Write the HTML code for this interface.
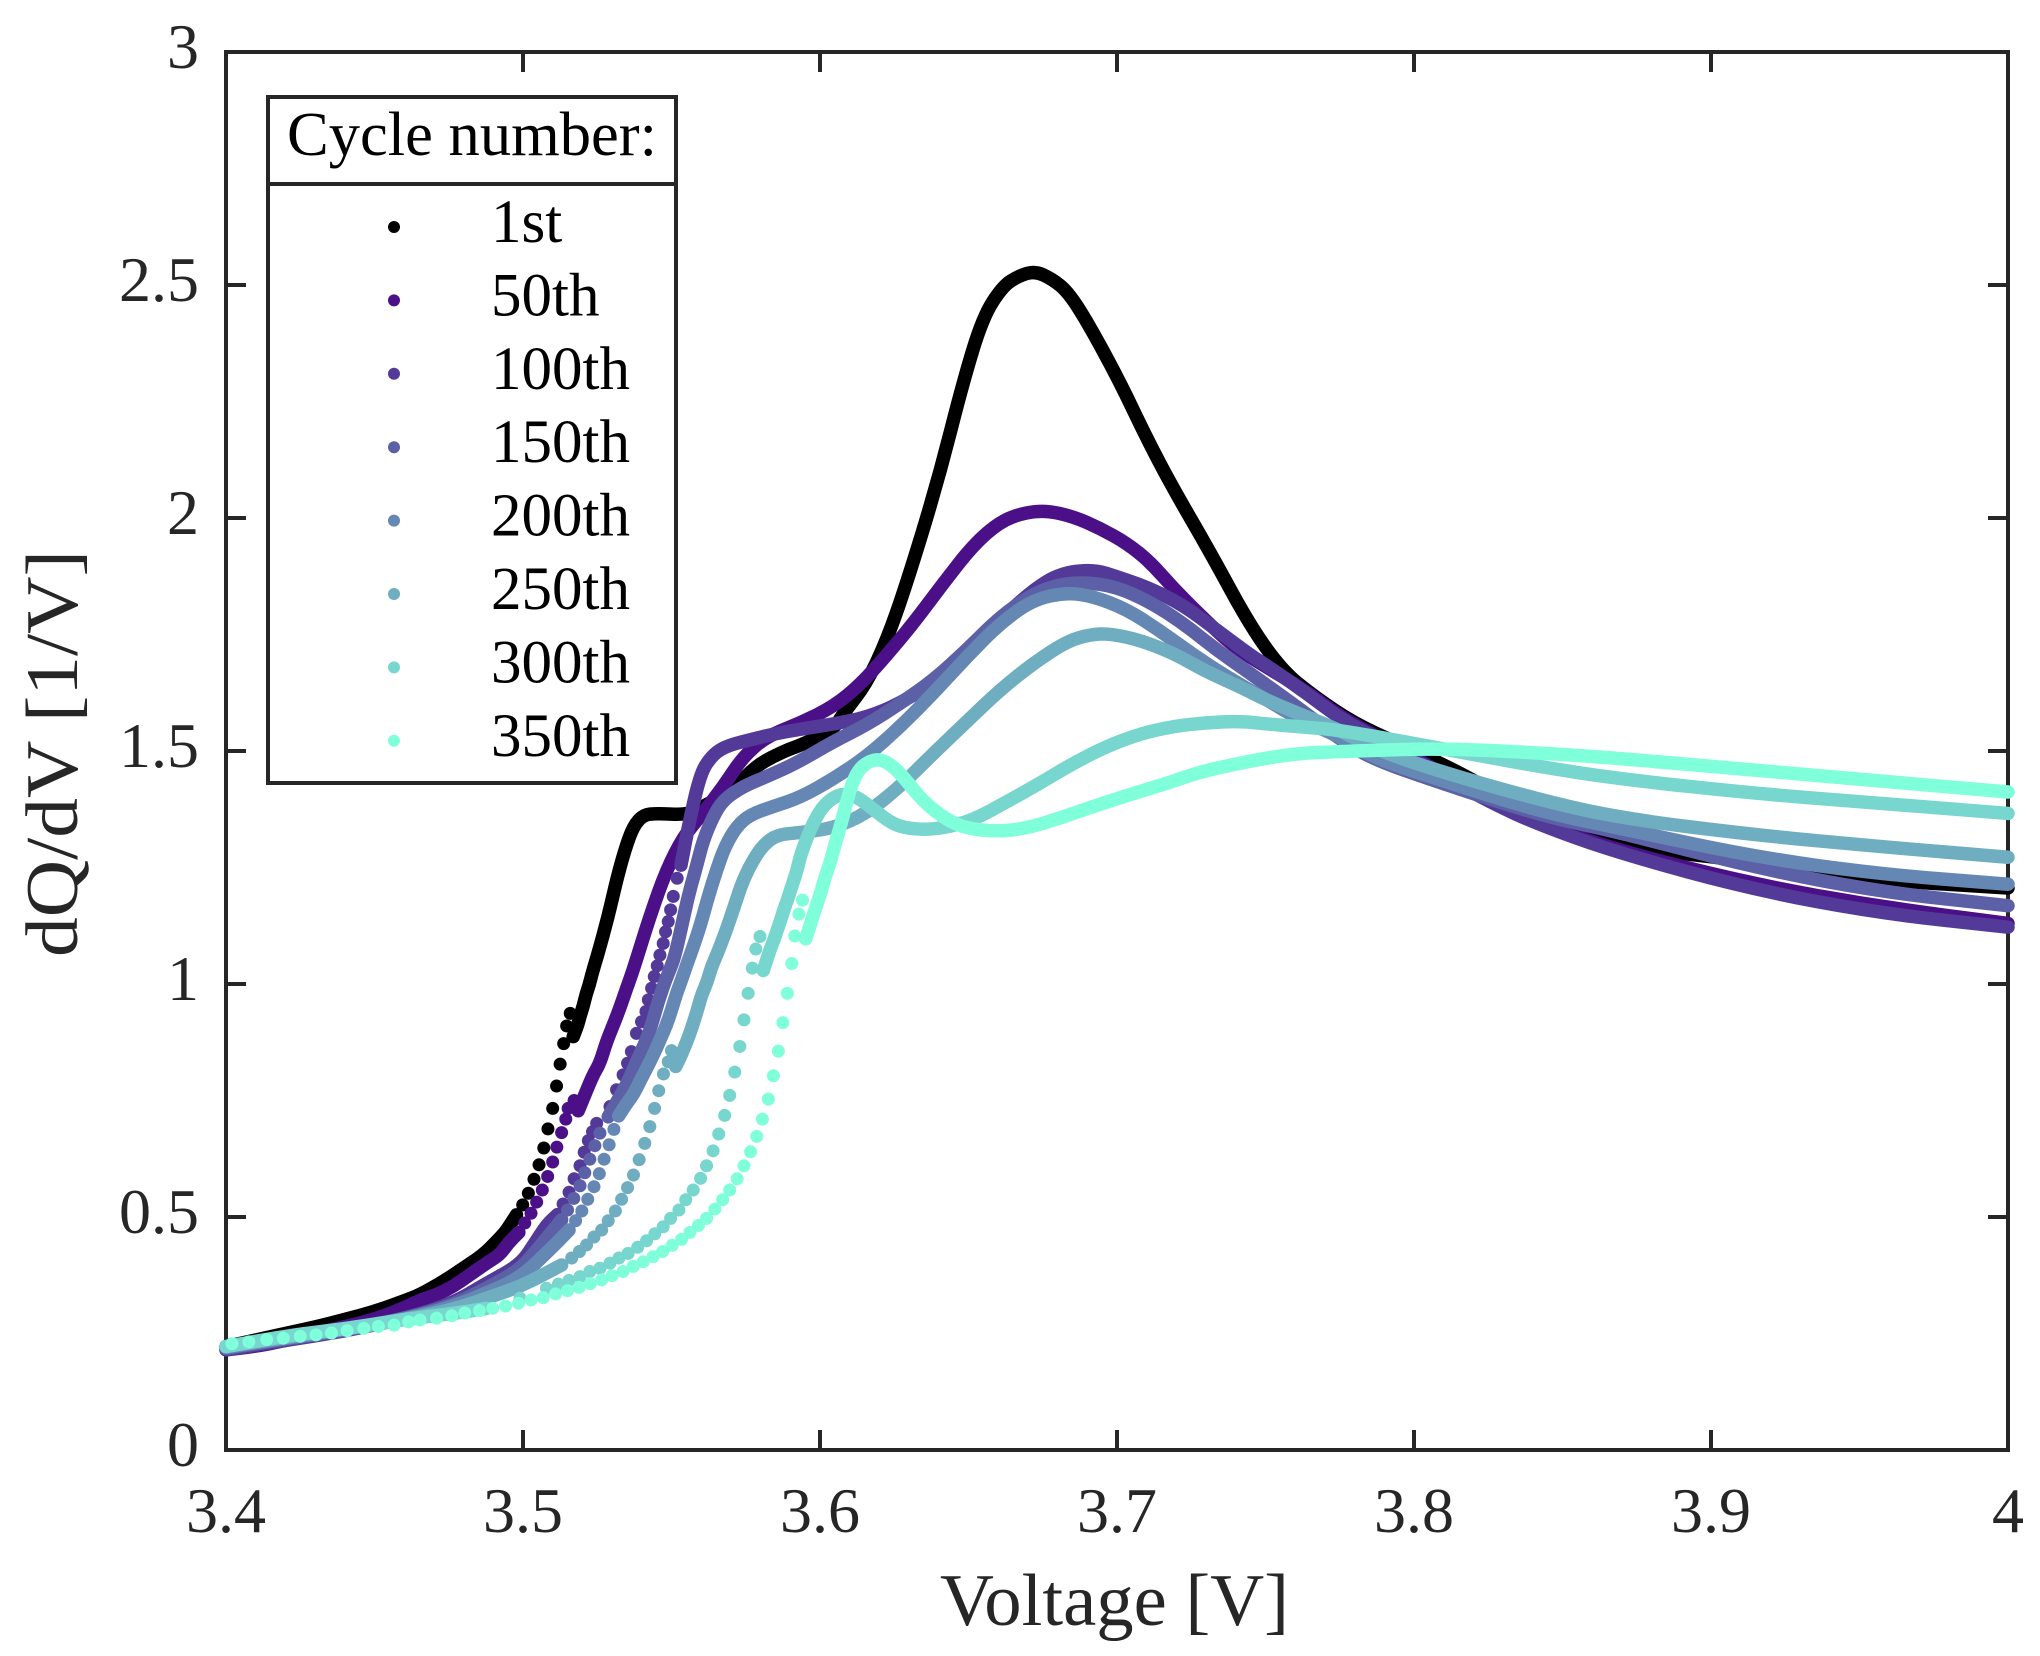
<!DOCTYPE html>
<html lang="en">
<head>
<meta charset="utf-8">
<title>dQ/dV versus voltage by cycle number</title>
<style>
html,body{margin:0;padding:0;background:#fff;}
body{width:2040px;height:1656px;overflow:hidden;}
svg{display:block;}
text{font-family:"Liberation Serif",serif;}
</style>
</head>
<body>
<svg id="chart" xmlns="http://www.w3.org/2000/svg" width="2040" height="1656" viewBox="0 0 2040 1656">
  <rect x="0" y="0" width="2040" height="1656" fill="#ffffff"/>
  <g id="axes"></g>
  <g id="marks"></g>
  <text x="1114.5" y="1625" font-size="74" text-anchor="middle" textLength="349" lengthAdjust="spacingAndGlyphs" fill="#262626">Voltage [V]</text>
  <text transform="translate(77,753.5) rotate(-90)" x="0" y="0" font-size="74" text-anchor="middle" textLength="407" lengthAdjust="spacingAndGlyphs" fill="#262626">dQ/dV [1/V]</text>
  <g id="legend">
    <rect x="268" y="97" width="408" height="686" fill="#ffffff" stroke="#262626" stroke-width="4"/>
    <line x1="268" y1="184" x2="676" y2="184" stroke="#262626" stroke-width="4"/>
    <text x="287" y="155" font-size="62" textLength="370" lengthAdjust="spacingAndGlyphs" fill="#000000">Cycle number:</text>
  </g>
</svg>
<script>
// Axis ticks
const xTicks = [3.4, 3.5, 3.6, 3.7, 3.8, 3.9, 4];
const xTickLabels = ["3.4", "3.5", "3.6", "3.7", "3.8", "3.9", "4"];
const yTicks = [0, 0.5, 1, 1.5, 2, 2.5, 3];
const yTickLabels = ["0", "0.5", "1", "1.5", "2", "2.5", "3"];

// Series names and colours
const cycleNames = ["1st", "50th", "100th", "150th", "200th", "250th", "300th", "350th"];
const cycleColors = ["#000000", "#4B1088", "#533A98", "#5C60A6", "#6587B4", "#6EAEC0", "#77D6CD", "#80FFDB"];

// 1st cycle
const lowV1 = [3.40,3.41,3.42,3.43,3.44,3.45,3.46,3.4653,3.4732,3.4799,3.4866,3.4911,3.4939,3.4958,3.4978];
const lowQ1 = [.222,.236,.25,.264,.28,.297,.32,.333,.3616,.39,.419,.4474,.4667,.4846,.5046];
const dotV1 = [3.4978,3.4999,3.5018,3.5037,3.5054,3.5070,3.5084,3.5100,3.5113,3.5125,3.5137,3.5147,3.5159];
const dotQ1 = [.5046,.526,.551,.581,.612,.648,.689,.733,.781,.828,.872,.910,.937];
const highV1 = [3.5169,3.5183,3.5192,3.5203,3.5212,3.5223,3.5232,3.5242,3.5252,3.5287,3.5315,3.5343,3.5371,3.5405,3.545,3.555,3.5596,3.5708,3.5786,3.5887,3.5933,3.6044,3.6079,3.6157,3.6225,3.6292,3.6396,3.6483,3.6549,3.6615,3.6667,3.6724,3.6781,3.6834,3.69,3.7009,3.7097,3.7184,3.7316,3.7447,3.7557,3.7666,3.7797,3.7941,3.8087,3.8199,3.8424,3.8694,3.9145,3.9566,4];
const highQ1 = [.887,.909,.931,.953,.977,.998,1.021,1.043,1.064,1.145,1.223,1.288,1.338,1.363,1.366,1.363,1.377,1.416,1.47,1.502,1.512,1.545,1.581,1.645,1.738,1.86,2.077,2.295,2.432,2.497,2.519,2.53,2.513,2.486,2.421,2.293,2.175,2.069,1.924,1.77,1.672,1.616,1.56,1.518,1.474,1.438,1.355,1.295,1.263,1.223,1.206];

// 50th cycle
const lowV50 = [3.40,3.41,3.42,3.43,3.44,3.45,3.46,3.4653,3.4709,3.4765,3.4821,3.4877,3.4922,3.495,3.4986];
const lowQ50 = [.215,.222,.235,.25,.265,.28,.305,.322,.333,.351,.376,.401,.419,.444,.467];
const dotV50 = [3.4986,3.5006,3.5027,3.5046,3.5065,3.5083,3.51,3.5114,3.513,3.5144,3.5152,3.5172];
const dotQ50 = [.467,.487,.508,.532,.558,.587,.618,.650,.681,.710,.733,.750];
const highV50 = [3.5186,3.5208,3.5236,3.5259,3.5281,3.5304,3.5326,3.5349,3.5371,3.5427,3.5483,3.554,3.5596,3.5674,3.5741,3.582,3.5933,3.6045,3.6135,3.6225,3.6314,3.6415,3.6516,3.6606,3.6685,3.6763,3.6853,3.6943,3.7033,3.7111,3.719,3.7279,3.7392,3.7504,3.7638,3.7751,3.7863,3.7975,3.8087,3.8256,3.8424,3.8694,3.9145,3.9566,4];
const highQ50 = [.728,.762,.805,.830,.876,.912,.948,.991,1.03,1.145,1.245,1.316,1.359,1.423,1.488,1.531,1.56,1.595,1.642,1.706,1.774,1.86,1.942,1.992,2.011,2.016,2.003,1.978,1.946,1.906,1.849,1.792,1.724,1.68,1.628,1.574,1.535,1.495,1.454,1.394,1.345,1.285,1.214,1.166,1.13];

// 100th cycle
const lowV100 = [3.40,3.42,3.44,3.46,3.4765,3.4877,3.499,3.504,3.5079,3.5116];
const lowQ100 = [.215,.235,.255,.282,.315,.358,.397,.444,.483,.505];
const dotV100 = [3.5116,3.5135,3.5155,3.5172,3.5192,3.5206,3.5220,3.5234,3.5248,3.5293,3.5315,3.5337,3.5352,3.5365,3.5382,3.5399,3.5414,3.5422,3.5433,3.5442,3.5452,3.5461,3.5472,3.548,3.5489,3.5497,3.5506,3.5519,3.5532];
const dotQ100 = [.505,.528,.553,.582,.610,.639,.664,.683,.701,.737,.773,.805,.830,.855,.894,.919,.941,.966,.991,1.016,1.039,1.062,1.087,1.112,1.134,1.159,1.188,1.227,1.255];
const highV100 = [3.5532,3.5548,3.5564,3.5584,3.5601,3.5618,3.5652,3.5697,3.5764,3.5854,3.5955,3.6045,3.6157,3.627,3.6415,3.6494,3.6606,3.6718,3.6808,3.692,3.701,3.7111,3.7223,3.7335,3.7448,3.7526,3.7638,3.7751,3.7863,3.7975,3.8087,3.8256,3.8424,3.8694,3.9145,3.9566,4];
const highQ100 = [1.255,1.309,1.359,1.416,1.452,1.474,1.499,1.513,1.524,1.538,1.549,1.558,1.572,1.602,1.66,1.71,1.781,1.846,1.881,1.89,1.872,1.849,1.813,1.76,1.706,1.674,1.624,1.57,1.531,1.491,1.45,1.39,1.341,1.28,1.202,1.152,1.122];

// 150th cycle
const lowV150 = [3.40,3.42,3.44,3.46,3.4765,3.4877,3.499,3.5057,3.5102,3.513];
const lowQ150 = [.218,.238,.257,.282,.3115,.347,.387,.437,.472,.494];
const dotV150 = [3.513,3.515,3.5171,3.5192,3.5208,3.5225,3.5242,3.5259,3.5287];
const dotQ150 = [.494,.515,.540,.567,.595,.624,.653,.680,.715];
const highV150 = [3.5287,3.5326,3.5354,3.5382,3.5416,3.5438,3.5455,3.5478,3.5494,3.5511,3.5534,3.5556,3.5584,3.5607,3.564,3.5674,3.5741,3.582,3.5921,3.6044,3.6157,3.627,3.6382,3.6494,3.6606,3.6718,3.6808,3.6898,3.6999,3.7111,3.7223,3.7335,3.7448,3.7616,3.7751,3.7863,3.8087,3.8424,3.8694,3.9145,3.9566,4];
const highQ150 = [.715,.758,.791,.833,.880,.923,.962,1.005,1.03,1.059,1.123,1.188,1.252,1.309,1.359,1.395,1.424,1.445,1.474,1.52,1.556,1.602,1.652,1.717,1.788,1.838,1.858,1.862,1.852,1.820,1.774,1.717,1.667,1.59,1.525,1.482,1.432,1.362,1.325,1.25,1.198,1.168];

// 200th cycle
const lowV200 = [3.40,3.42,3.44,3.46,3.4765,3.4877,3.499,3.5102,3.5155];
const lowQ200 = [.22,.24,.258,.28,.308,.337,.369,.437,.472];
const dotV200 = [3.5155,3.5177,3.5198,3.5218,3.5239,3.5257,3.5273,3.529,3.5306,3.5322];
const dotQ200 = [.472,.492,.513,.538,.565,.593,.624,.655,.688,.717];
const highV200 = [3.5322,3.5349,3.5371,3.5399,3.5422,3.5444,3.5466,3.5483,3.55,3.5517,3.5534,3.5551,3.5567,3.5596,3.5624,3.5652,3.568,3.5719,3.5764,3.5842,3.5933,3.6045,3.6157,3.627,3.6382,3.6494,3.6606,3.6718,3.683,3.692,3.7033,3.7145,3.7257,3.737,3.7504,3.7616,3.7751,3.7863,3.8087,3.8424,3.8694,3.9145,3.9566,4];
const highQ200 = [.717,.744,.762,.798,.826,.855,.887,.912,.944,.980,1.009,1.041,1.069,1.123,1.188,1.245,1.295,1.338,1.363,1.381,1.40,1.44,1.488,1.552,1.624,1.702,1.774,1.825,1.84,1.832,1.804,1.758,1.706,1.659,1.61,1.567,1.531,1.485,1.438,1.37,1.334,1.273,1.236,1.214];

// 250th cycle
const lowV250 = [3.40,3.42,3.44,3.46,3.4765,3.4911,3.499,3.5068,3.513];
const lowQ250 = [.222,.242,.26,.28,.301,.333,.351,.376,.397];
const dotV250 = [3.513,3.5164,3.519,3.5214,3.5239,3.5265,3.5287,3.5311,3.5332,3.5352,3.5372,3.5391,3.541,3.5427,3.5443,3.5457,3.5473,3.5489,3.55];
const dotQ250 = [.397,.412,.426,.440,.457,.472,.492,.513,.538,.563,.590,.623,.658,.694,.733,.771,.807,.833,.857];
const highV250 = [3.5514,3.5528,3.5545,3.5562,3.5584,3.5601,3.5618,3.5635,3.5652,3.5685,3.5713,3.5741,3.5775,3.5809,3.5854,3.5933,3.6045,3.6157,3.627,3.6382,3.6494,3.6606,3.6718,3.683,3.6909,3.6976,3.7077,3.719,3.7302,3.7414,3.7526,3.7751,3.7863,3.8087,3.8424,3.8694,3.9145,3.9566,4];
const highQ250 = [.823,.841,.866,.894,.937,.976,1.001,1.037,1.062,1.116,1.170,1.223,1.266,1.298,1.320,1.325,1.334,1.366,1.424,1.495,1.563,1.631,1.688,1.735,1.75,1.752,1.738,1.710,1.670,1.638,1.602,1.545,1.505,1.456,1.395,1.356,1.32,1.295,1.272];

// 300th cycle
const lowV300 = [3.40,3.42,3.44,3.46,3.47,3.48,3.4877];
const lowQ300 = [.222,.245,.26,.28,.288,.296,.304];
const dotV300 = [3.4877,3.499,3.5079,3.5119,3.5155,3.5192,3.5225,3.5259,3.5293,3.5323,3.5354,3.5386,3.5416,3.5444,3.5472,3.5497,3.5525,3.5548,3.5573,3.5598,3.5618,3.564,3.5659,3.5679,3.5696,3.5713,3.573,3.5744,3.5758,3.5772,3.5784,3.5798];
const dotQ300 = [.304,.326,.347,.356,.364,.372,.383,.390,.401,.412,.422,.435,.449,.464,.479,.497,.515,.537,.558,.583,.610,.642,.678,.718,.761,.811,.866,.923,.980,1.034,1.075,1.102];
const highV300 = [3.5809,3.582,3.5831,3.5845,3.5856,3.5868,3.5878,3.589,3.5901,3.5912,3.5923,3.5932,3.5943,3.596,3.5977,3.6005,3.6039,3.6078,3.6123,3.6168,3.6247,3.6326,3.6415,3.6516,3.6629,3.6741,3.6853,3.6965,3.7077,3.719,3.7302,3.7414,3.7504,3.7616,3.7751,3.8087,3.8424,3.8694,3.9145,3.9566,4];
const highQ300 = [1.029,1.05,1.072,1.095,1.116,1.138,1.159,1.18,1.202,1.223,1.245,1.27,1.291,1.32,1.345,1.377,1.398,1.409,1.402,1.381,1.341,1.331,1.334,1.352,1.391,1.431,1.474,1.51,1.537,1.553,1.561,1.564,1.558,1.552,1.545,1.506,1.466,1.44,1.409,1.388,1.366];

// 350th cycle
const lowV350 = [];
const lowQ350 = [];
const dotV350 = [3.402,3.4077,3.4137,3.4193,3.425,3.4303,3.4355,3.4408,3.4464,3.4513,3.4566,3.4615,3.4653,3.4709,3.476,3.4804,3.4853,3.4898,3.4941,3.4985,3.5027,3.5068,3.511,3.515,3.5189,3.5227,3.5265,3.53,3.5337,3.5371,3.5405,3.5438,3.547,3.5502,3.5534,3.5562,3.5591,3.5618,3.5646,3.5672,3.5696,3.5721,3.5744,3.5766,3.5787,3.5806,3.5826,3.5843,3.586,3.5875,3.589,3.5905,3.5915,3.5929,3.5941];
const dotQ350 = [.228,.232,.237,.24,.244,.247,.251,.256,.261,.265,.268,.275,.279,.283,.288,.294,.299,.304,.309,.315,.322,.327,.335,.342,.349,.357,.365,.374,.383,.394,.404,.415,.426,.439,.452,.467,.482,.497,.517,.537,.558,.582,.610,.640,.673,.710,.753,.803,.856,.917,.980,1.044,1.103,1.150,1.18];
const highV350 = [3.5952,3.5964,3.5975,3.5988,3.6,3.6011,3.6022,3.6033,3.6044,3.6053,3.6065,3.6076,3.609,3.6106,3.6129,3.6162,3.6201,3.6241,3.628,3.6348,3.6427,3.6494,3.6595,3.6696,3.6808,3.692,3.7055,3.7167,3.7279,3.7392,3.7504,3.7616,3.7751,3.8087,3.8424,3.8694,3.9145,3.9566,4];
const highQ350 = [1.097,1.12,1.143,1.168,1.191,1.216,1.238,1.259,1.283,1.305,1.331,1.356,1.391,1.427,1.459,1.477,1.483,1.470,1.445,1.391,1.352,1.334,1.327,1.334,1.356,1.381,1.409,1.43,1.455,1.471,1.485,1.495,1.499,1.506,1.496,1.484,1.459,1.436,1.412];

const seriesLowV = [lowV1, lowV50, lowV100, lowV150, lowV200, lowV250, lowV300, lowV350];
const seriesLowQ = [lowQ1, lowQ50, lowQ100, lowQ150, lowQ200, lowQ250, lowQ300, lowQ350];
const seriesDotV = [dotV1, dotV50, dotV100, dotV150, dotV200, dotV250, dotV300, dotV350];
const seriesDotQ = [dotQ1, dotQ50, dotQ100, dotQ150, dotQ200, dotQ250, dotQ300, dotQ350];
const seriesHighV = [highV1, highV50, highV100, highV150, highV200, highV250, highV300, highV350];
const seriesHighQ = [highQ1, highQ50, highQ100, highQ150, highQ200, highQ250, highQ300, highQ350];

const SVGNS = "http://www.w3.org/2000/svg";
const plotLeft = 226, plotRight = 2008, plotTop = 52, plotBottom = 1450;
const xMin = 3.4, xMax = 4, yMin = 0, yMax = 3;
function xScale(v) { return plotLeft + (v - xMin) / (xMax - xMin) * (plotRight - plotLeft); }
function yScale(q) { return plotBottom - (q - yMin) / (yMax - yMin) * (plotBottom - plotTop); }
function make(tag, attrs, parent) {
  const el = document.createElementNS(SVGNS, tag);
  for (const k in attrs) el.setAttribute(k, attrs[k]);
  parent.appendChild(el);
  return el;
}
function smoothPath(vs, qs) {
  const pts = vs.map((v, i) => [xScale(v), yScale(qs[i])]);
  if (!pts.length) return "";
  let d = "M" + pts[0][0].toFixed(2) + " " + pts[0][1].toFixed(2);
  for (let i = 1; i < pts.length - 1; i++) {
    const mx = (pts[i][0] + pts[i + 1][0]) / 2, my = (pts[i][1] + pts[i + 1][1]) / 2;
    d += "Q" + pts[i][0].toFixed(2) + " " + pts[i][1].toFixed(2) + " " + mx.toFixed(2) + " " + my.toFixed(2);
  }
  const last = pts[pts.length - 1];
  d += "L" + last[0].toFixed(2) + " " + last[1].toFixed(2);
  return d;
}

const axes = document.getElementById("axes");
const frame = make("rect", {x: plotLeft, y: plotTop, width: plotRight - plotLeft, height: plotBottom - plotTop, fill: "none", stroke: "#262626", "stroke-width": 4}, axes);



xTicks.forEach((t, i) => {
  const x = xScale(t);
  const b = make("line", {x1: x, x2: x, y1: plotBottom, y2: plotBottom - 20, stroke: "#262626", "stroke-width": 4}, axes);
  
  
  const u = make("line", {x1: x, x2: x, y1: plotTop, y2: plotTop + 20, stroke: "#262626", "stroke-width": 4}, axes);
  
  
  const lab = make("text", {x: x, y: 1532, "font-size": 64, "text-anchor": "middle", fill: "#262626"}, axes);
  
  
  lab.textContent = xTickLabels[i];
});
yTicks.forEach((t, i) => {
  const y = yScale(t);
  const l = make("line", {x1: plotLeft, x2: plotLeft + 20, y1: y, y2: y, stroke: "#262626", "stroke-width": 4}, axes);
  
  
  const r = make("line", {x1: plotRight, x2: plotRight - 20, y1: y, y2: y, stroke: "#262626", "stroke-width": 4}, axes);
  
  
  const lab = make("text", {x: 199, y: y + 16, "font-size": 64, "text-anchor": "end", fill: "#262626"}, axes);
  
  
  lab.textContent = yTickLabels[i];
});

const marks = document.getElementById("marks");
cycleNames.forEach((name, s) => {
  const g = make("g", {fill: cycleColors[s]}, marks);
  
  
  [[seriesLowV[s], seriesLowQ[s]], [seriesHighV[s], seriesHighQ[s]]].forEach(pair => {
    if (!pair[0].length) return;
    const p = make("path", {d: smoothPath(pair[0], pair[1]), fill: "none", stroke: cycleColors[s], "stroke-width": 13.5, "stroke-linecap": "round", "stroke-linejoin": "round"}, g);
    
    
  });
  seriesDotV[s].forEach((v, i) => {
    const c = make("circle", {cx: xScale(v), cy: yScale(seriesDotQ[s][i]), r: 6.5}, g);
    
    
  });
});

const legend = document.getElementById("legend");
const legendFirstY = 227, legendRowStep = 73.4;
cycleNames.forEach((name, s) => {
  const y = legendFirstY + s * legendRowStep;
  const m = make("circle", {cx: 394, cy: y, r: 6, fill: cycleColors[s]}, legend);
  
  
  const t = make("text", {x: 491, y: y + 15, "font-size": 61, fill: "#000000"}, legend);
  
  
  t.textContent = name;
});
</script>
</body>
</html>
